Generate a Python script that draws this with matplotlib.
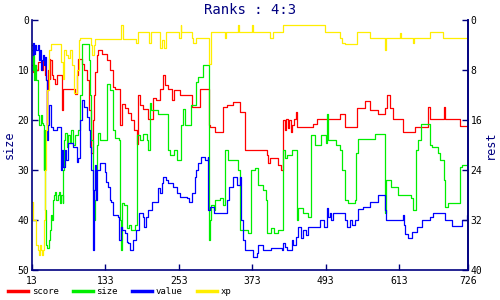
import matplotlib
matplotlib.use("Agg")
import matplotlib.pyplot as plt
from matplotlib.lines import Line2D

# ---- data (left-axis "size" units, 0 at top) ----
score_x = [13,15,17,20,23,29,31,34,36,37,38,39,41,42,43,45,47,51,54,62,64,83,86,88,95,98,103,107,109,112,114,116,119,121,127,136,141,145,149,157,160,165,170,175,180,185,186,190,194,203,211,216,222,227,231,235,242,245,255,275,288,302,304,312,325,332,342,353,362,397,399,402,415,420,423,424,426,428,431,433,436,438,441,445,447,472,479,517,525,544,557,566,579,590,594,598,603,620,639,660,664,686,688,713,726]
score_y = [9,10.4,9,10,8.3,10,8,11,12,21,14,10,7.7,11.7,8,11,11.7,12.7,11,18,13.7,14.7,11,7.7,8.7,10,12,18,26.5,20,15,10.4,7,6,6.7,8,10,13.3,13.7,21,16.7,17.5,18.5,20,22,24.7,15,17,17.7,19.7,15.5,16,13.7,11,13,13.7,16,14,15,17.3,13.7,21,21.3,22.3,17.3,17,16.3,18.3,26,27,28.6,27.6,29,30,22,20,22,19.8,21.5,20,22.4,21,19.8,18.3,21.3,20.7,19.8,18.7,21.3,17.5,16.2,18,18.7,17.6,15,17.6,19.7,22.4,21.3,17.3,19.7,17.3,19.7,21.2,21.2]

size_x = [13,14,15,16,18,19,23,25,27,29,31,32,33,34,36,38,40,42,44,46,47,49,51,53,55,57,59,61,63,64,66,67,70,72,75,77,80,83,88,92,94,95,105,107,108,110,112,113,115,116,118,119,121,124,136,141,145,149,155,157,159,160,163,168,172,175,181,185,190,195,201,203,206,208,217,219,232,235,239,245,250,257,260,263,273,281,284,293,297,302,304,306,310,312,320,325,329,333,350,353,361,366,371,377,382,391,396,397,404,409,415,423,426,430,438,446,448,456,464,469,476,485,494,495,497,510,517,520,525,530,541,543,546,570,574,587,590,592,600,611,633,636,641,644,649,660,664,667,677,680,686,688,693,709,713,716,726]
size_y = [6,10,7,12,9,12,19,21,19,20.5,21,30,22,38,45,45.5,44,42,39,40,36,35,34.4,36,35,34.4,36.6,35,36.6,30,24,22.6,25.4,23,24.5,22,25,23,22,15,6,4.8,4.8,8,15,24,30,34,40,36,30,25,22.6,24,12.7,14,22,23.5,24,40,46,36.5,37,41.5,41,42,41,23,24,22.7,24,26,16.6,18,18,18.7,18.7,26,27,26,28,21,17.7,21,17,12.4,11.4,9,8.9,44,40,37,38,36,35.5,37,26,28,30,42,42,42.5,30,29.5,33,34,36,42.6,41.5,42.5,42,26,27.5,27,26,40,37.5,38.5,39.4,23,25,23,24.5,18.7,24,25,26,30,36,36.6,36,26.6,23.7,23.7,22.7,22.7,38.6,32,33.4,35,35.5,38,26,24,20.8,20.8,25,25.4,26.6,28,32,37.4,36.6,36.6,29.4,29,29]

value_x = [13,14,15,16,18,20,23,24,26,27,29,31,33,34,36,38,39,41,44,47,54,59,61,62,64,67,69,72,80,86,88,91,92,95,98,103,106,108,110,112,114,116,118,119,124,132,134,137,141,142,146,154,156,158,160,165,168,170,173,178,183,188,194,196,199,203,209,219,222,225,227,232,235,244,250,255,266,270,275,280,282,284,290,296,300,301,304,310,320,324,332,335,342,348,353,355,358,361,373,375,381,382,391,404,422,423,427,430,438,440,445,448,453,456,461,464,479,484,490,495,497,500,502,505,525,528,533,536,541,546,554,566,579,590,592,618,620,621,623,628,634,642,651,664,669,688,700,716,724,726]
value_y = [5,7,4.6,6.7,5,6,5,8,6,10,8,7,9,7.4,12,24,21,17,21.4,22,21.4,21.4,30,26,29.4,26,28,24.5,25.4,28.4,27.5,26,20,16,17.4,19.4,22,25.4,30,46,34,29,36,30,28.6,30.4,32.4,33.4,36,36.4,39,39.4,44,41.4,42,42.6,44.4,44.6,46,44,42,38.6,39.4,41.4,39.4,38,36.4,33.6,34.6,32.6,31.4,32,32.6,33.4,34.6,35.4,35.6,36.4,34.6,31.4,30,28.6,27.4,28,27.4,38,37.4,38.6,38.6,38.6,36,33.4,31.4,33,31.4,40,44,46,46,47.4,46.5,45,46,45.5,46,44.6,45.4,46,44,45,43.4,41.4,43.6,42,43,41.4,41.4,40,41.4,37.6,39.4,38.6,40,38.6,40,41.4,40,41,40,37.8,37.4,36.4,35,38,40,40,39,41,42.8,43.6,42.4,41.4,40,39.4,38.6,40,41.2,40,39,39]

xp_x = [13,15,19,23,25,26,28,29,31,33,34,36,38,40,41,44,59,60,63,66,69,72,75,79,82,87,90,91,108,109,111,114,116,157,159,162,181,183,186,203,204,208,222,223,226,229,232,252,253,256,257,273,274,276,281,301,302,303,305,306,327,328,330,349,350,351,369,372,374,397,402,407,423,492,517,520,525,544,566,590,592,615,617,636,638,664,685,726]
xp_y = [36.4,40,45,46,47,45,46,47,46,40,30,22,14,8,6,4.8,4.8,8.3,11.7,6,7,7.6,6,9,14.6,10,4,3.6,3.6,5,7,5,3.7,3.7,1,3.7,3.7,4.6,2.4,2.4,4.6,2.4,2.4,5.6,4,5.6,2.4,2.4,3.6,1,2.4,2.4,3.6,4.6,3.6,3.6,6,8.7,5,2.4,2.4,3.6,2.4,2.4,1,2.4,2.4,1,2.4,2.4,3.6,2.4,1,2.4,3.5,4.5,4.8,2.4,3.6,6,3.6,2.6,3.6,4.5,3.6,2.4,3.6,3.6]

x_ticks = [13, 133, 253, 373, 493, 613, 726]
left_ticks = [0, 10, 20, 30, 40, 50]
right_ticks = [0, 8, 16, 24, 32, 40]

series = [("score", score_x, score_y, "#ff0000"),
          ("size", size_x, size_y, "#00ee00"),
          ("value", value_x, value_y, "#0000ff"),
          ("xp", xp_x, xp_y, "#ffee00")]

navy = "#000080"
mono = "DejaVu Sans Mono"

fig = plt.figure(figsize=(5, 3), dpi=100)
ax = fig.add_axes([0.064, 0.10, 0.872, 0.833])

for name, xs, ys, col in series:
    ax.plot(xs, ys, drawstyle="steps-post", color=col, lw=0.9, label=name)

ax.set_xlim(13, 726)
ax.set_ylim(50, 0)
ax.set_xticks(x_ticks)
ax.set_yticks(left_ticks)
ax.spines["top"].set_visible(False)
for s in ["left", "bottom", "right"]:
    ax.spines[s].set_color(navy)
    ax.spines[s].set_linewidth(1.2)
ax.tick_params(direction="in", length=4, width=1, color=navy, labelsize=7,
               labelcolor="black", pad=2)
ax.tick_params(axis="x", pad=4)
for lab in ax.get_xticklabels() + ax.get_yticklabels():
    lab.set_fontfamily(mono)
ax.set_ylabel("size", color=navy, fontsize=8.5, family=mono, labelpad=1)

ax2 = ax.twinx()
ax2.set_ylim(40, 0)
ax2.set_yticks(right_ticks)
ax2.spines["top"].set_visible(False)
ax2.spines["left"].set_visible(False)
ax2.spines["bottom"].set_visible(False)
ax2.spines["right"].set_color(navy)
ax2.spines["right"].set_linewidth(1.2)
ax2.tick_params(direction="in", length=4, width=1, color=navy, labelsize=7, pad=2)
for lab in ax2.get_yticklabels():
    lab.set_fontfamily(mono)
ax2.set_ylabel("rest", color=navy, fontsize=8.5, family=mono, labelpad=1)

fig.text(0.5, 0.965, "Ranks : 4:3", ha="center", va="center",
         color=navy, fontsize=10, family=mono)

handles = [Line2D([0], [0], color=c, lw=2.5) for _, _, _, c in series]
labels = [n for n, _, _, _ in series]
fig.legend(handles, labels, loc="lower left", bbox_to_anchor=(0.0, -0.015),
           ncol=4, frameon=False, prop={"family": mono, "size": 6.5},
           handlelength=2.2, handletextpad=0.4, columnspacing=1.6)

fig.savefig("out.png", dpi=100)
